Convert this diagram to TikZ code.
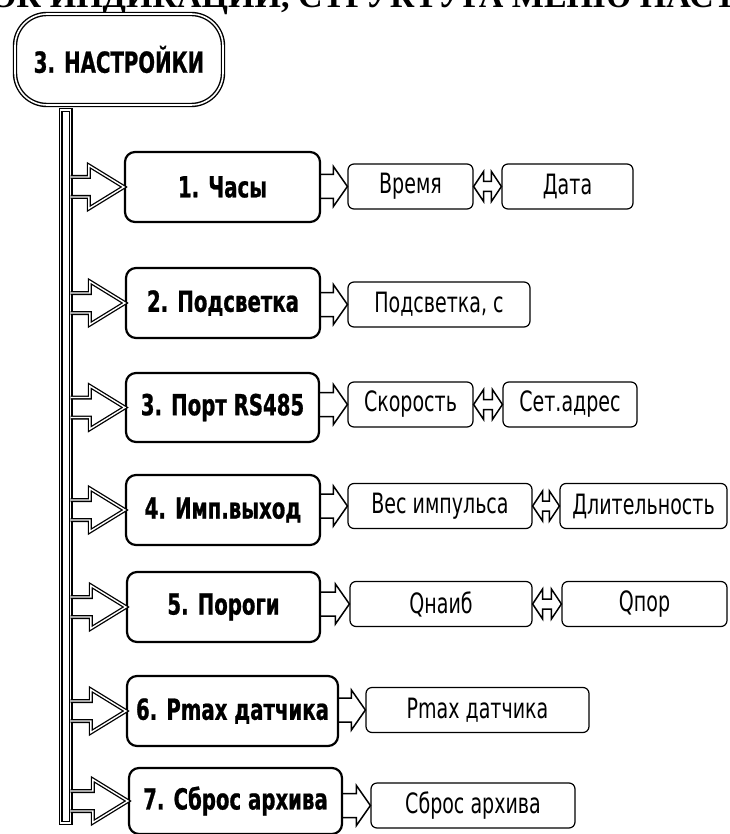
\documentclass[tikz,border=0pt]{standalone}
\usepackage{fontspec}
\newfontfamily\boxfont[FakeStretch=0.68, BoldFeatures={FakeBold=0.8}]{DejaVu Sans}
\newfontfamily\hdrfont{Liberation Serif}
\usetikzlibrary{calc}
\newcommand\barArrow[1]{%
  \draw[dbl] let \p1=(#1.west), \p2=(bar.east) in
    (\x2,\y1+10pt) -- (\x1-35pt,\y1+10pt) -- (\x1-35pt,\y1+21.5pt) -- (\x1,\y1)
    -- (\x1-35pt,\y1-21.5pt) -- (\x1-35pt,\y1-10pt) -- (\x2,\y1-10pt);}
\newcommand\subArrow[2]{%
  \draw[thinarrow] let \p1=(#1.east), \p2=(#2.west) in
    (\x1-2pt,\y2+12pt) -- (\x2-14pt,\y2+12pt) -- (\x2-14pt,\y2+20pt) -- (\x2,\y2)
    -- (\x2-14pt,\y2-20pt) -- (\x2-14pt,\y2-12pt) -- (\x1-2pt,\y2-12pt);}
\newcommand\dblArrow[2]{%
  \draw[thinarrow] let \p1=(#1.east), \p2=(#2.west) in
    (\x1,\y1) -- (\x1+10pt,\y1+15pt) -- (\x1+10pt,\y1+5pt) -- (\x2-10pt,\y1+5pt)
    -- (\x2-10pt,\y1+15pt) -- (\x2,\y1) -- (\x2-10pt,\y1-15pt) -- (\x2-10pt,\y1-5pt)
    -- (\x1+10pt,\y1-5pt) -- (\x1+10pt,\y1-15pt) -- cycle;}
\begin{document}
\begin{tikzpicture}[x=1pt,y=-1pt,
  mainbox/.style={draw, line width=2.2pt, rounded corners=10pt, inner sep=0pt,
    font=\boxfont\bfseries\fontsize{29}{33}\selectfont},
  subbox/.style={draw, line width=1.2pt, rounded corners=6pt, inner sep=0pt,
    minimum height=45pt, font=\boxfont\fontsize{28}{32}\selectfont},
  dbl/.style={draw, line width=1.3pt, double, double distance=1.4pt, line join=miter},
  thinarrow/.style={draw, line width=1.5pt, line join=miter},
]
\useasboundingbox (0,0) rectangle (729,834);
\clip (0,0) rectangle (729,834);
\node[anchor=base west, inner sep=0pt, font=\hdrfont\bfseries\fontsize{34}{38}\selectfont] (hdr) at (-10,8) {ОК ИНДИКАЦИИ, СТРУКТУРА МЕНЮ НАСТ};
\node[draw, line width=1.4pt, double, double distance=1.6pt, rounded corners=32pt,
  minimum width=208pt, minimum height=91pt, inner sep=0pt,
  font=\boxfont\bfseries\fontsize{29}{33}\selectfont] (top) at (119,59.5) {3. НАСТРОЙКИ};
\node[dbl, minimum width=10pt, minimum height=713pt, inner sep=0pt, outer sep=0pt, anchor=north west] (bar) at (60.5,110) {};
% row 1
\node[mainbox, minimum width=195pt, minimum height=70pt] (b1) at (222.5,187) {1. Часы};
\node[subbox, minimum width=125pt] (s1a) at (410.5,186.5) {Время};
\node[subbox, minimum width=131pt] (s1b) at (567.5,186.5) {Дата};
% row 2
\node[mainbox, minimum width=194pt, minimum height=70pt] (b2) at (223,303) {2. Подсветка};
\node[subbox, minimum width=182pt] (s2) at (439,304.5) {Подсветка, с};
% row 3
\node[mainbox, minimum width=193pt, minimum height=69pt] (b3) at (222.5,407.5) {3. Порт RS485};
\node[subbox, minimum width=125pt] (s3a) at (410.5,404.5) {Скорость};
\node[subbox, minimum width=134pt] (s3b) at (570,404.5) {Сет.адрес};
% row 4
\node[mainbox, minimum width=194pt, minimum height=70pt] (b4) at (223,510) {4. Имп.выход};
\node[subbox, minimum width=184pt] (s4a) at (440,506) {Вес импульса};
\node[subbox, minimum width=167pt] (s4b) at (643.5,506) {Длительность};
% row 5
\node[mainbox, minimum width=193pt, minimum height=70pt] (b5) at (223.5,607) {5. Пороги};
\node[subbox, minimum width=182pt] (s5a) at (441,604) {Qнаиб};
\node[subbox, minimum width=165pt] (s5b) at (644.5,604) {Qпор};
% row 6
\node[mainbox, minimum width=211pt, minimum height=70pt] (b6) at (232.5,711) {6. Pmax датчика};
\node[subbox, minimum width=223pt] (s6) at (477.5,710) {Pmax датчика};
% row 7
\node[mainbox, minimum width=213pt, minimum height=66pt] (b7) at (235.5,801) {7. Сброс архива};
\node[subbox, minimum width=204pt] (s7) at (473,805.5) {Сброс архива};
% arrows
\foreach \b in {b1,b2,b3,b4,b5,b6,b7} {\barArrow{\b}}
\subArrow{b1}{s1a}\subArrow{b2}{s2}\subArrow{b3}{s3a}\subArrow{b4}{s4a}
\subArrow{b5}{s5a}\subArrow{b6}{s6}\subArrow{b7}{s7}
\dblArrow{s1a}{s1b}\dblArrow{s3a}{s3b}\dblArrow{s4a}{s4b}\dblArrow{s5a}{s5b}
\end{tikzpicture}
\end{document}
